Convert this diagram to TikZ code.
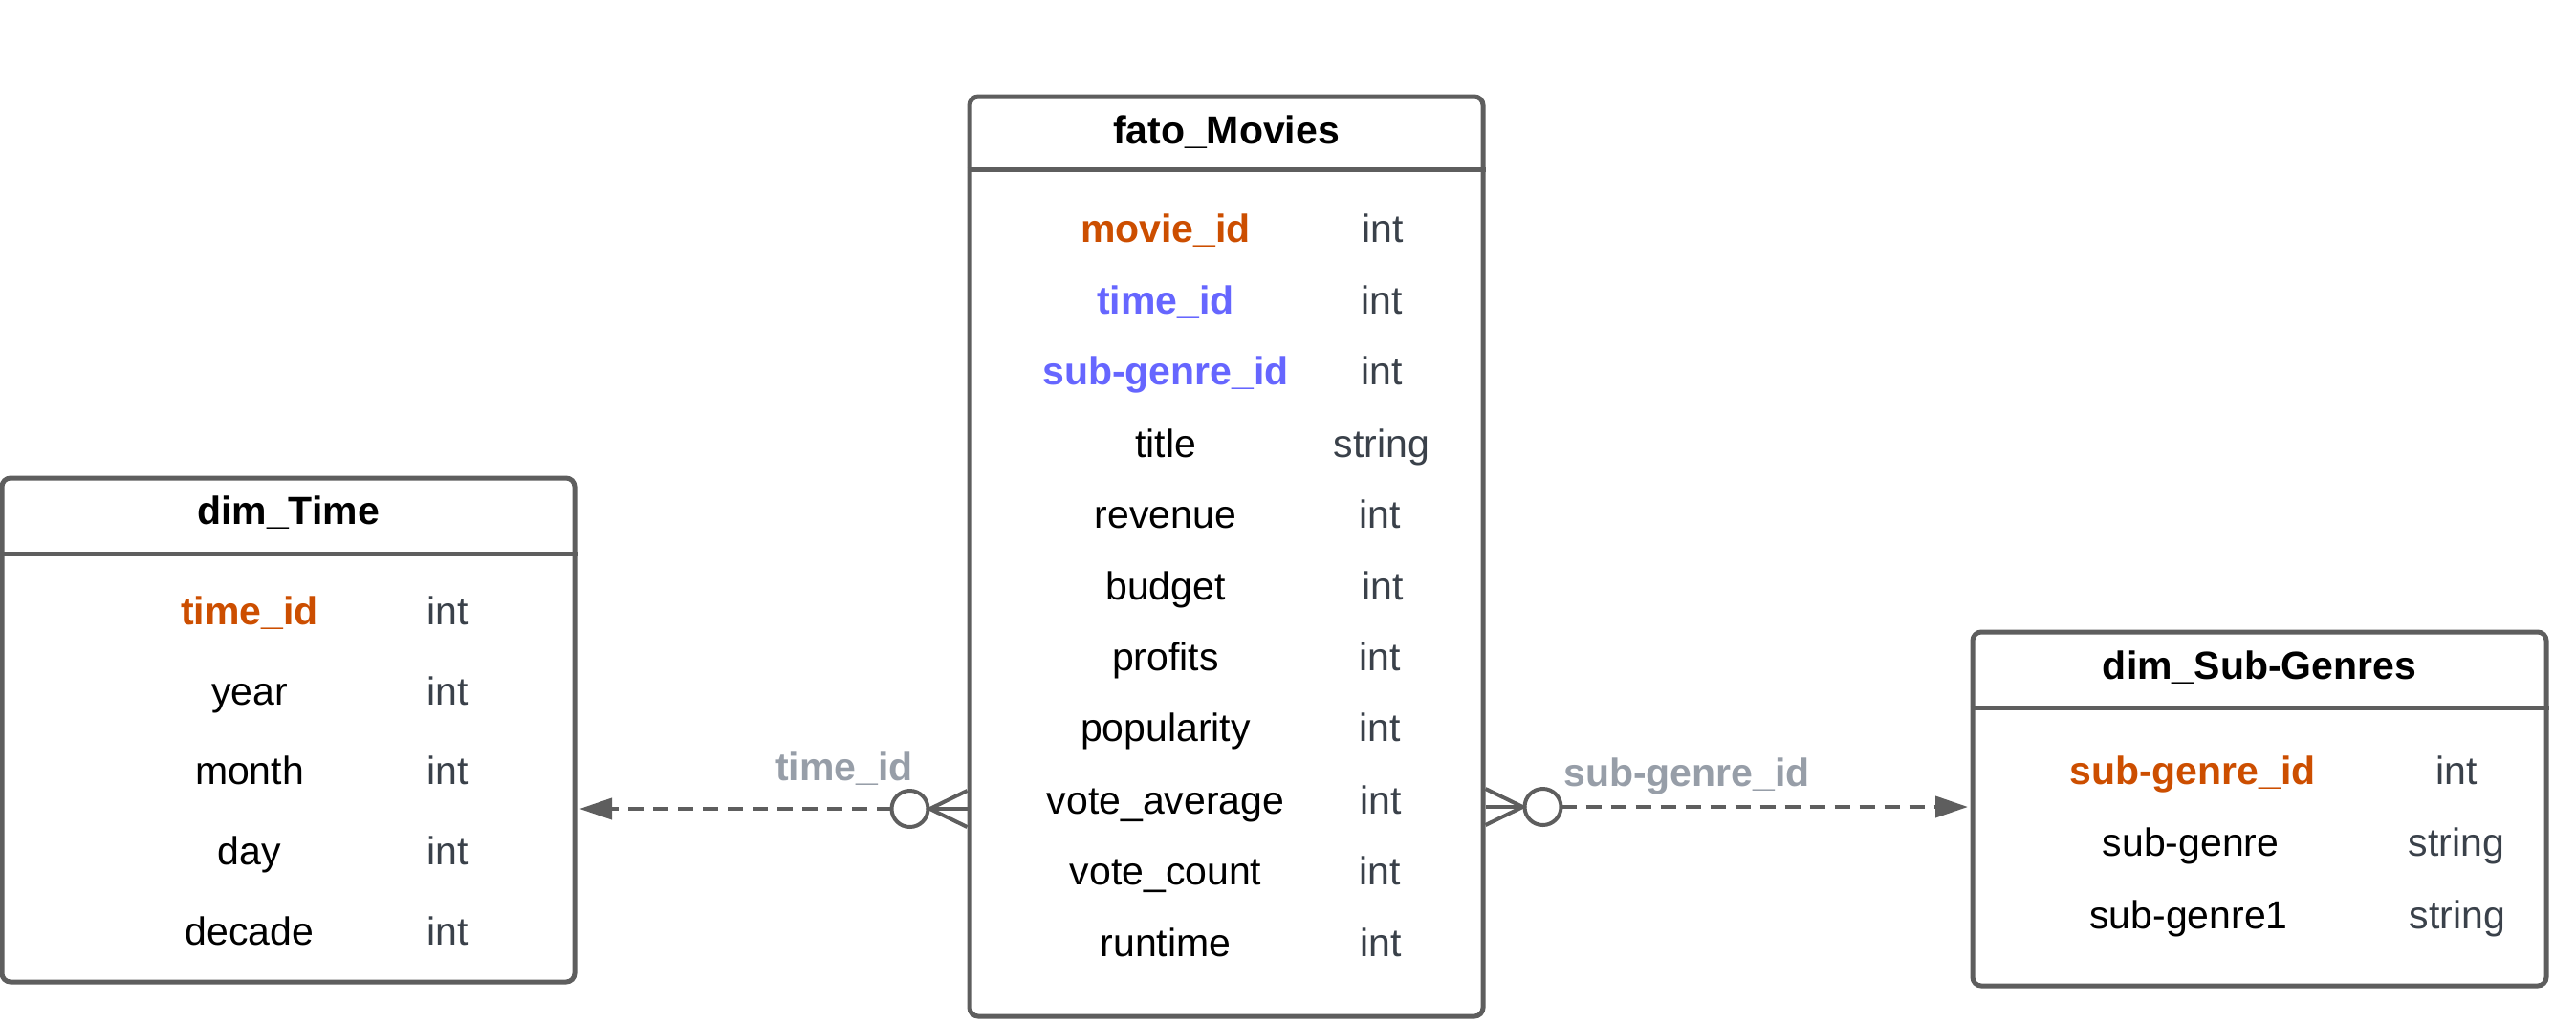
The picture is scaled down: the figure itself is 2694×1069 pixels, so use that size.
\documentclass[tikz,border=0pt]{standalone}
\usepackage{fontspec}
\setmainfont{Liberation Sans}
\usetikzlibrary{arrows.meta}
\definecolor{bord}{HTML}{5E5E5E}
\definecolor{pk}{HTML}{CC4E00}
\definecolor{fk}{HTML}{6666FF}
\definecolor{typ}{HTML}{3A414A}
\definecolor{lbl}{HTML}{979EA8}
\begin{document}
\begin{tikzpicture}[x=1pt,y=-1pt,
  tbl/.style={draw=bord, line width=5pt, rounded corners=9pt, fill=white, inner sep=0pt},
  sepline/.style={draw=bord, line width=5pt},
  ttl/.style={font=\fontsize{41}{49}\selectfont\bfseries, anchor=base, inner sep=0pt, text=black},
  fld/.style={font=\fontsize{41}{49}\selectfont, anchor=base, inner sep=0pt, text=black},
  pkf/.style={fld, font=\fontsize{41}{49}\selectfont\bfseries, text=pk},
  fkf/.style={fld, font=\fontsize{41}{49}\selectfont\bfseries, text=fk},
  typf/.style={fld, text=typ},
  rel/.style={draw=bord, line width=4pt},
  reldash/.style={rel, dash pattern=on 16pt off 10pt, -{Triangle[length=34pt,width=22pt]}},
  rlabel/.style={font=\fontsize{41}{49}\selectfont\bfseries, anchor=base, inner sep=0pt, text=lbl}]
\useasboundingbox (0,0) rectangle (2694,1069);

% ---------- dim_Time ----------
\node[tbl, minimum width=599pt, minimum height=527pt] (time) at (301.5,763.5) {};
\draw[sepline] (time.west |- 0,579) -- (time.east |- 0,579);
\node[ttl] (timeT) at (301.5,548) {dim\_Time};
\node[pkf] (t1) at (261,653) {time\_id};  \node[typf] (t1t) at (468,653) {int};
\node[fld] (t2) at (261,737) {year};      \node[typf] (t2t) at (468,737) {int};
\node[fld] (t3) at (261,820) {month};     \node[typf] (t3t) at (468,820) {int};
\node[fld] (t4) at (261,904) {day};       \node[typf] (t4t) at (468,904) {int};
\node[fld] (t5) at (261,988) {decade};    \node[typf] (t5t) at (468,988) {int};

% ---------- fato_Movies ----------
\node[tbl, minimum width=537pt, minimum height=962pt] (movies) at (1282.5,582) {};
\draw[sepline] (movies.west |- 0,177) -- (movies.east |- 0,177);
\node[ttl] (moviesT) at (1282.5,150) {fato\_Movies};
\node[pkf] (m1) at (1219,253) {movie\_id};       \node[typf] (m1t) at (1446,253) {int};
\node[fkf] (m2) at (1219,328) {time\_id};        \node[typf] (m2t) at (1445,328) {int};
\node[fkf] (m3) at (1219,402) {sub-genre\_id};   \node[typf] (m3t) at (1445,402) {int};
\node[fld] (m4) at (1219,478) {title};           \node[typf] (m4t) at (1445,478) {string};
\node[fld] (m5) at (1219,552) {revenue};         \node[typf] (m5t) at (1443,552) {int};
\node[fld] (m6) at (1219,627) {budget};          \node[typf] (m6t) at (1446,627) {int};
\node[fld] (m7) at (1219,701) {profits};         \node[typf] (m7t) at (1443,701) {int};
\node[fld] (m8) at (1219,775) {popularity};      \node[typf] (m8t) at (1443,775) {int};
\node[fld] (m9) at (1219,851) {vote\_average};   \node[typf] (m9t) at (1444,851) {int};
\node[fld] (m10) at (1219,925) {vote\_count};    \node[typf] (m10t) at (1443,925) {int};
\node[fld] (m11) at (1219,1000) {runtime};       \node[typf] (m11t) at (1444,1000) {int};

% ---------- dim_Sub-Genres ----------
\node[tbl, minimum width=600pt, minimum height=370pt] (subg) at (2363,846) {};
\draw[sepline] (subg.west |- 0,740) -- (subg.east |- 0,740);
\node[ttl] (subgT) at (2363,710) {dim\_Sub-Genres};
\node[pkf] (s1) at (2293,820) {sub-genre\_id};  \node[typf] (s1t) at (2569,820) {int};
\node[fld] (s2) at (2291,895) {sub-genre};      \node[typf] (s2t) at (2569,895) {string};
\node[fld] (s3) at (2289,971) {sub-genre1};     \node[typf] (s3t) at (2570,971) {string};

% ---------- relation: fato_Movies -> dim_Time ----------
\coordinate (mL) at (movies.west |- 0,846);
\coordinate (tR) at ([xshift=2.5pt]time.east |- mL);
\draw[rel] ([yshift=19pt]mL) -- ([xshift=-39pt]mL) -- ([yshift=-19pt]mL);
\draw[rel] (mL) -- ([xshift=-41pt]mL);
\draw[rel] ([xshift=-60pt]mL) circle[radius=19pt];
\draw[reldash] ([xshift=-79pt]mL) -- (tR);
\node[rlabel] (lblT) at (883,816) {time\_id};

% ---------- relation: fato_Movies -> dim_Sub-Genres ----------
\coordinate (mR) at (movies.east |- 0,844);
\coordinate (sL) at ([xshift=-2.5pt]subg.west |- mR);
\draw[rel] ([yshift=19pt]mR) -- ([xshift=39pt]mR) -- ([yshift=-19pt]mR);
\draw[rel] (mR) -- ([xshift=41pt]mR);
\draw[rel] ([xshift=60pt]mR) circle[radius=19pt];
\draw[reldash] ([xshift=79pt]mR) -- (sL);
\node[rlabel] (lblS) at (1764,822) {sub-genre\_id};
\end{tikzpicture}
\end{document}
